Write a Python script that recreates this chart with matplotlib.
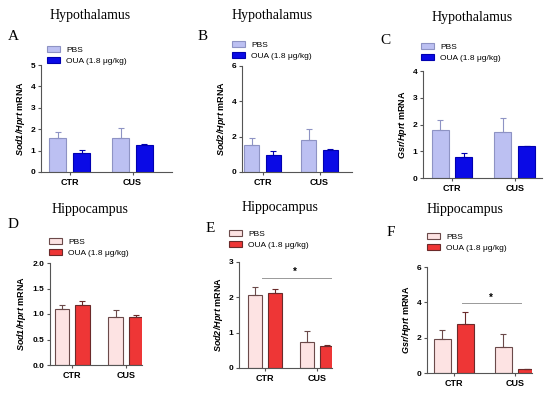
import numpy as np
import matplotlib
matplotlib.use("Agg")
import matplotlib.pyplot as plt

plt.rcParams['font.family'] = 'Liberation Sans'
plt.rcParams['mathtext.fontset'] = 'custom'
plt.rcParams['mathtext.bfit'] = 'Liberation Sans:italic:bold'
plt.rcParams['mathtext.it'] = 'Liberation Sans:italic'
plt.rcParams['mathtext.bf'] = 'Liberation Sans:bold'

groups = ['CTR', 'CUS']
series = ['PBS', 'OUA (1.8 μg/kg)']

# hypothalamus
sod1_hyp_pbs = [1.57, 1.57]
sod1_hyp_pbs_err = [0.28, 0.50]
sod1_hyp_oua = [0.88, 1.27]
sod1_hyp_oua_err = [0.15, 0.02]
sod2_hyp_pbs = [1.53, 1.80]
sod2_hyp_pbs_err = [0.37, 0.65]
sod2_hyp_oua = [0.97, 1.27]
sod2_hyp_oua_err = [0.20, 0.03]
gsr_hyp_pbs = [1.78, 1.73]
gsr_hyp_pbs_err = [0.40, 0.52]
gsr_hyp_oua = [0.78, 1.18]
gsr_hyp_oua_err = [0.15, 0.03]

# hippocampus
sod1_hip_pbs = [1.10, 0.95]
sod1_hip_pbs_err = [0.08, 0.13]
sod1_hip_oua = [1.18, 0.94]
sod1_hip_oua_err = [0.08, 0.05]
sod2_hip_pbs = [2.07, 0.75]
sod2_hip_pbs_err = [0.22, 0.30]
sod2_hip_oua = [2.13, 0.62]
sod2_hip_oua_err = [0.10, 0.04]
gsr_hip_pbs = [1.95, 1.48]
gsr_hip_pbs_err = [0.50, 0.70]
gsr_hip_oua = [2.75, 0.22]
gsr_hip_oua_err = [0.72, 0.03]

W, H = 550, 393
fig = plt.figure(figsize=(5.5, 3.93), dpi=100)

def px_axes(l, r, t, b):
    return fig.add_axes([l / W, (H - b) / H, (r - l) / W, (b - t) / H])

hyp_cols = ('#bcc0f2', '#0a0ae6')
hyp_edges = ('#8e93c4', '#0000b0')
hip_cols = ('#fde3e3', '#ee3636')
hip_edges = ('#6b4a4a', '#6b2a2a')

panels = [
    # letter, title, gene, pbs, pbs_err, oua, oua_err, ymax, ticks, fmt, colors, edges, axes px, xlim, title xy, letter xy, legend xy
    ('A', 'Hypothalamus', 'Sod1', sod1_hyp_pbs, sod1_hyp_pbs_err, sod1_hyp_oua, sod1_hyp_oua_err,
     5, [0, 1, 2, 3, 4, 5], '%d', hyp_cols, hyp_edges, (41, 172, 65, 172), (-0.46, 1.63), (90, 15), (13, 37), (47, 46)),
    ('B', 'Hypothalamus', 'Sod2', sod2_hyp_pbs, sod2_hyp_pbs_err, sod2_hyp_oua, sod2_hyp_oua_err,
     6, [0, 2, 4, 6], '%d', hyp_cols, hyp_edges, (242, 352, 66, 172), (-0.36, 1.57), (272, 15), (203, 37), (232, 41)),
    ('C', 'Hypothalamus', 'Gsr', gsr_hyp_pbs, gsr_hyp_pbs_err, gsr_hyp_oua, gsr_hyp_oua_err,
     4, [0, 1, 2, 3, 4], '%d', hyp_cols, hyp_edges, (423, 542, 71, 178), (-0.46, 1.43), (472, 17), (385, 40), (421, 43)),
    ('D', 'Hippocampus', 'Sod1', sod1_hip_pbs, sod1_hip_pbs_err, sod1_hip_oua, sod1_hip_oua_err,
     2, [0, 0.5, 1.0, 1.5, 2.0], '%.1f', hip_cols, hip_edges, (50, 142, 263, 365), (-0.41, 1.3), (90, 210), (13, 225), (49, 238)),
    ('E', 'Hippocampus', 'Sod2', sod2_hip_pbs, sod2_hip_pbs_err, sod2_hip_oua, sod2_hip_oua_err,
     3, [0, 1, 2, 3], '%d', hip_cols, hip_edges, (239, 332, 262, 368), (-0.5, 1.29), (280, 208), (210, 228), (229, 230)),
    ('F', 'Hippocampus', 'Gsr', gsr_hip_pbs, gsr_hip_pbs_err, gsr_hip_oua, gsr_hip_oua_err,
     6, [0, 2, 4, 6], '%d', hip_cols, hip_edges, (427, 532, 267, 373), (-0.44, 1.28), (465, 210), (391, 233), (427, 233)),
]

x = np.arange(len(groups))
bw = 0.27
off = 0.19

axes = {}
for (let, title, gene, pbs, pbs_e, oua, oua_e, ymax, ticks, fmt, cols, edges,
     box, xlim, txy, lxy, legxy) in panels:
    ax = px_axes(*box)
    axes[let] = ax
    b1 = ax.bar(x - off, pbs, bw, color=cols[0], edgecolor=edges[0], linewidth=0.8,
                yerr=[[0, 0], pbs_e], error_kw=dict(ecolor=edges[0], elinewidth=0.8, capsize=2.5, capthick=0.8))
    b2 = ax.bar(x + off, oua, bw, color=cols[1], edgecolor=edges[1], linewidth=0.8,
                yerr=[[0, 0], oua_e], error_kw=dict(ecolor=edges[1], elinewidth=0.8, capsize=2.5, capthick=0.8))
    ax.set_xlim(*xlim)
    ax.set_ylim(0, ymax)
    ax.set_yticks(ticks)
    ax.set_yticklabels([fmt % t for t in ticks], fontsize=6, fontweight='bold')
    ax.set_xticks(x)
    ax.set_xticklabels(groups, fontsize=6.5, fontweight='bold')
    for s in ('top', 'right'):
        ax.spines[s].set_visible(False)
    for s in ('left', 'bottom'):
        ax.spines[s].set_color('#555555')
        ax.spines[s].set_linewidth(0.8)
    ax.tick_params(length=2.5, width=0.8, color='#555555', pad=1.5)
    ax.set_ylabel(r'$\mathbfit{%s/Hprt}$ mRNA' % gene, fontsize=6.5, fontweight='bold', labelpad=3)
    fig.text(txy[0] / W, 1 - txy[1] / H, title, family='Liberation Serif', fontsize=10,
             ha='center', va='center')
    fig.text(lxy[0] / W, 1 - lxy[1] / H, let, family='Liberation Serif', fontsize=11,
             ha='center', va='center')
    ax.legend([b1.patches[0], b2.patches[0]], series, loc='upper left',
              bbox_to_anchor=(legxy[0] / W, 1 - legxy[1] / H), bbox_transform=fig.transFigure,
              frameon=False, fontsize=6, handlelength=1.5, handleheight=0.65,
              handletextpad=0.8, labelspacing=0.45, borderpad=0, borderaxespad=0)

# significance marks
ax = axes['E']
ax.plot([-0.05, 1.27], [2.55, 2.55], color='#999999', lw=0.7, clip_on=False)
ax.text(0.58, 2.58, '*', ha='center', va='bottom', fontsize=7, fontweight='bold')
ax = axes['F']
ax.plot([0.14, 1.1], [3.94, 3.94], color='#999999', lw=0.7, clip_on=False)
ax.text(0.6, 3.98, '*', ha='center', va='bottom', fontsize=7, fontweight='bold')

fig.savefig('out.png', dpi=100)
